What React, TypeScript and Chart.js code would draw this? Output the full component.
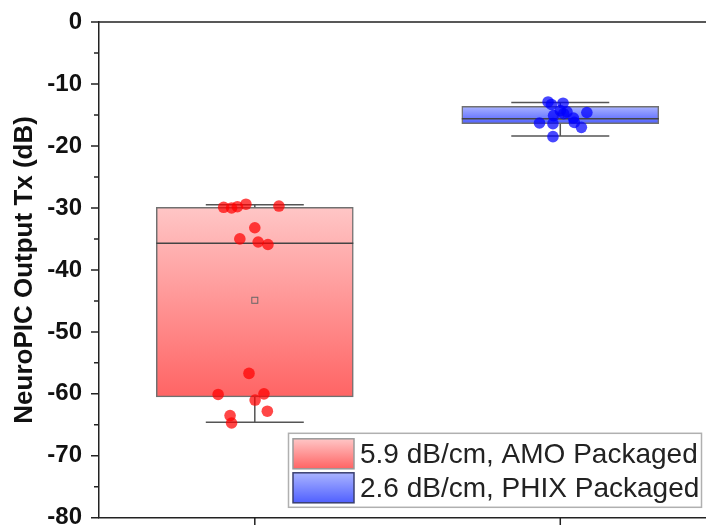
import React, { useEffect, useRef } from 'react';
import { Chart, registerables } from 'chart.js';

Chart.register(...registerables);

// ---- data ----
const categories = ['5.9 dB/cm, AMO Packaged', '2.6 dB/cm, PHIX Packaged'];
const categoryX = [1, 2];
const q1 = [-60.5, -16.4];
const q3 = [-29.9, -13.6];
const medians = [-35.7, -15.6];
const means = [-44.9, -15.2];
const whiskerLow = [-64.6, -18.4];
const whiskerHigh = [-29.5, -13.0];

const amoX = [0.898, 0.924, 0.943, 0.971, 1.079, 1.0, 0.951, 1.011, 1.043, 0.981, 0.88, 1.03, 1.001, 1.041, 0.919, 0.924];
const amoY = [-29.9, -30.0, -29.8, -29.4, -29.7, -33.2, -35.0, -35.5, -35.9, -56.7, -60.1, -60.0, -61.0, -62.8, -63.5, -64.7];
const phixX = [1.96, 1.971, 2.009, 2.0, 1.978, 2.011, 2.087, 2.043, 1.932, 1.976, 2.046, 2.069, 1.976, 2.022];
const phixY = [-12.9, -13.3, -13.1, -14.3, -15.1, -14.8, -14.6, -15.5, -16.3, -16.4, -16.2, -17.0, -18.5, -14.5];

const yMajorTicks = [0, -10, -20, -30, -40, -50, -60, -70, -80];
const yMinorTicks = [-5, -15, -25, -35, -45, -55, -65, -75];

// ---- styles ----
const FONT = "'Liberation Sans', Arial, sans-serif";
const gradTop = ['rgb(255,198,198)', 'rgb(170,180,255)'];
const gradBottom = ['rgb(255,100,100)', 'rgb(80,96,255)'];
const pointColors = ['rgba(255,0,0,0.72)', 'rgba(0,0,255,0.72)'];
const swatchBorders = ['#9a9a9a', '#3a3f70'];
const BOX_PX = 197;
const CAP_PX = 98;
const AXIS_COLOR = '#222';
const CANVAS_H = 536;

const boxPlugin = {
  id: 'boxExtras',
  afterDatasetDraw(chart: any, args: any) {
    if (args.meta.type !== 'bar') return;
    const { ctx, scales } = chart;
    const xs = scales.x;
    const ys = scales.y;
    ctx.save();
    ctx.strokeStyle = '#555';
    ctx.lineWidth = 1.5;
    for (let i = 0; i < categoryX.length; i++) {
      const cx = xs.getPixelForValue(categoryX[i]);
      const yq1 = ys.getPixelForValue(q1[i]);
      const yq3 = ys.getPixelForValue(q3[i]);
      const yLo = ys.getPixelForValue(whiskerLow[i]);
      const yHi = ys.getPixelForValue(whiskerHigh[i]);
      const yMed = ys.getPixelForValue(medians[i]);
      ctx.beginPath();
      ctx.moveTo(cx, yq3);
      ctx.lineTo(cx, yHi);
      ctx.moveTo(cx - CAP_PX / 2, yHi);
      ctx.lineTo(cx + CAP_PX / 2, yHi);
      ctx.moveTo(cx, yq1);
      ctx.lineTo(cx, yLo);
      ctx.moveTo(cx - CAP_PX / 2, yLo);
      ctx.lineTo(cx + CAP_PX / 2, yLo);
      ctx.stroke();
      ctx.strokeStyle = '#444';
      ctx.beginPath();
      ctx.moveTo(cx - BOX_PX / 2, yMed);
      ctx.lineTo(cx + BOX_PX / 2, yMed);
      ctx.stroke();
      const ym = ys.getPixelForValue(means[i]);
      ctx.lineWidth = 1;
      ctx.strokeStyle = '#666';
      ctx.strokeRect(cx - 3, ym - 3, 6, 6);
      ctx.lineWidth = 1.5;
      ctx.strokeStyle = '#555';
    }
    ctx.restore();
  },
};

const axisPlugin = {
  id: 'axisExtras',
  afterDraw(chart: any) {
    const { ctx, scales, chartArea } = chart;
    const ys = scales.y;
    const xs = scales.x;
    ctx.save();
    ctx.strokeStyle = AXIS_COLOR;
    ctx.lineWidth = 1.5;
    ctx.beginPath();
    // top frame line
    ctx.moveTo(chartArea.left, chartArea.top);
    ctx.lineTo(chartArea.right, chartArea.top);
    for (const v of yMajorTicks) {
      const y = ys.getPixelForValue(v);
      ctx.moveTo(chartArea.left, y);
      ctx.lineTo(chartArea.left - 8, y);
    }
    for (const v of yMinorTicks) {
      const y = ys.getPixelForValue(v);
      ctx.moveTo(chartArea.left, y);
      ctx.lineTo(chartArea.left - 5, y);
    }
    for (const v of categoryX) {
      const x = xs.getPixelForValue(v);
      ctx.moveTo(x, chartArea.bottom);
      ctx.lineTo(x, chartArea.bottom + 8);
    }
    ctx.stroke();

    // legend inside the plot, bottom right
    const lx = chartArea.right - 418;
    const ly = chartArea.bottom - 85;
    const lw = 413;
    const lh = 74;
    ctx.fillStyle = '#fff';
    ctx.fillRect(lx, ly, lw, lh);
    ctx.strokeStyle = '#b0b0b0';
    ctx.lineWidth = 1.5;
    ctx.strokeRect(lx + 0.5, ly + 0.5, lw, lh);
    for (let i = 0; i < categories.length; i++) {
      const sx = lx + 5;
      const sy = ly + 6 + i * 34;
      const sw = 61;
      const sh = 30;
      const g = ctx.createLinearGradient(0, sy, 0, sy + sh);
      g.addColorStop(0, gradTop[i]);
      g.addColorStop(1, gradBottom[i]);
      ctx.fillStyle = g;
      ctx.fillRect(sx, sy, sw, sh);
      ctx.strokeStyle = swatchBorders[i];
      ctx.lineWidth = 1.5;
      ctx.strokeRect(sx, sy, sw, sh);
      ctx.fillStyle = '#222';
      ctx.font = `28px ${FONT}`;
      ctx.textAlign = 'left';
      ctx.textBaseline = 'middle';
      ctx.fillText(categories[i], sx + sw + 6, sy + sh / 2 + 1);
    }
    ctx.restore();
  },
};

export default function App() {
  const ref = useRef<HTMLCanvasElement | null>(null);

  useEffect(() => {
    document.body.style.margin = '0';
    document.body.style.overflow = 'hidden';
    document.documentElement.style.overflow = 'hidden';
    const canvas = ref.current;
    if (!canvas) return;

    const chart = new Chart(canvas, {
      type: 'bar',
      data: {
        datasets: [
          {
            type: 'scatter',
            label: 'AMO points',
            data: amoX.map((x, i) => ({ x, y: amoY[i] })),
            backgroundColor: pointColors[0],
            borderWidth: 0,
            pointRadius: 5.8,
            order: 1,
          } as any,
          {
            type: 'scatter',
            label: 'PHIX points',
            data: phixX.map((x, i) => ({ x, y: phixY[i] })),
            backgroundColor: pointColors[1],
            borderWidth: 0,
            pointRadius: 5.8,
            order: 1,
          } as any,
          {
            type: 'bar',
            label: 'boxes',
            data: categoryX.map((x, i) => ({ x, y: [q1[i], q3[i]] })),
            barThickness: BOX_PX,
            borderWidth: 1.5,
            borderColor: '#707070',
            borderSkipped: false,
            order: 5,
            backgroundColor: (c: any) => {
              const chart = c.chart;
              const i = c.dataIndex ?? 0;
              const ys = chart.scales?.y;
              if (!chart.chartArea || !ys || c.type !== 'data') return gradTop[i] || gradTop[0];
              const yTop = ys.getPixelForValue(q3[i]);
              const yBot = ys.getPixelForValue(q1[i]);
              const g = chart.ctx.createLinearGradient(0, yTop, 0, yBot);
              g.addColorStop(0, gradTop[i]);
              g.addColorStop(1, gradBottom[i]);
              return g;
            },
          } as any,
        ],
      },
      options: {
        responsive: false,
        maintainAspectRatio: false,
        animation: false,
        layout: { autoPadding: false, padding: { top: 22, right: 0, left: 0, bottom: 0 } },
        plugins: {
          legend: { display: false },
          tooltip: { enabled: false },
        },
        scales: {
          x: {
            type: 'linear',
            min: 0.49,
            max: 2.477,
            offset: false,
            grid: { display: false, drawTicks: false },
            ticks: { display: false },
            border: { display: true, color: AXIS_COLOR, width: 1.5 },
            afterFit: (s: any) => {
              s.height = 7;
            },
          },
          y: {
            type: 'linear',
            min: -80,
            max: 0,
            grid: { display: false, drawTicks: false },
            border: { display: true, color: AXIS_COLOR, width: 1.5 },
            ticks: {
              stepSize: 10,
              padding: 17,
              color: '#111',
              font: { family: FONT, size: 24, weight: 'bold', lineHeight: 0.1 },
            },
            title: {
              display: true,
              text: 'NeuroPIC Output Tx (dB)',
              color: '#111',
              font: { family: FONT, size: 26, weight: 'bold' },
              padding: { top: 9, bottom: 0 },
            },
            afterFit: (s: any) => {
              s.width = 99;
            },
          },
        },
      } as any,
      plugins: [boxPlugin, axisPlugin],
    });

    return () => {
      chart.destroy();
    };
  }, []);

  return (
    <div style={{ width: 706, height: 525, background: '#fff', overflow: 'hidden' }}>
      <canvas ref={ref} width={706} height={CANVAS_H} style={{ display: 'block' }} />
    </div>
  );
}
